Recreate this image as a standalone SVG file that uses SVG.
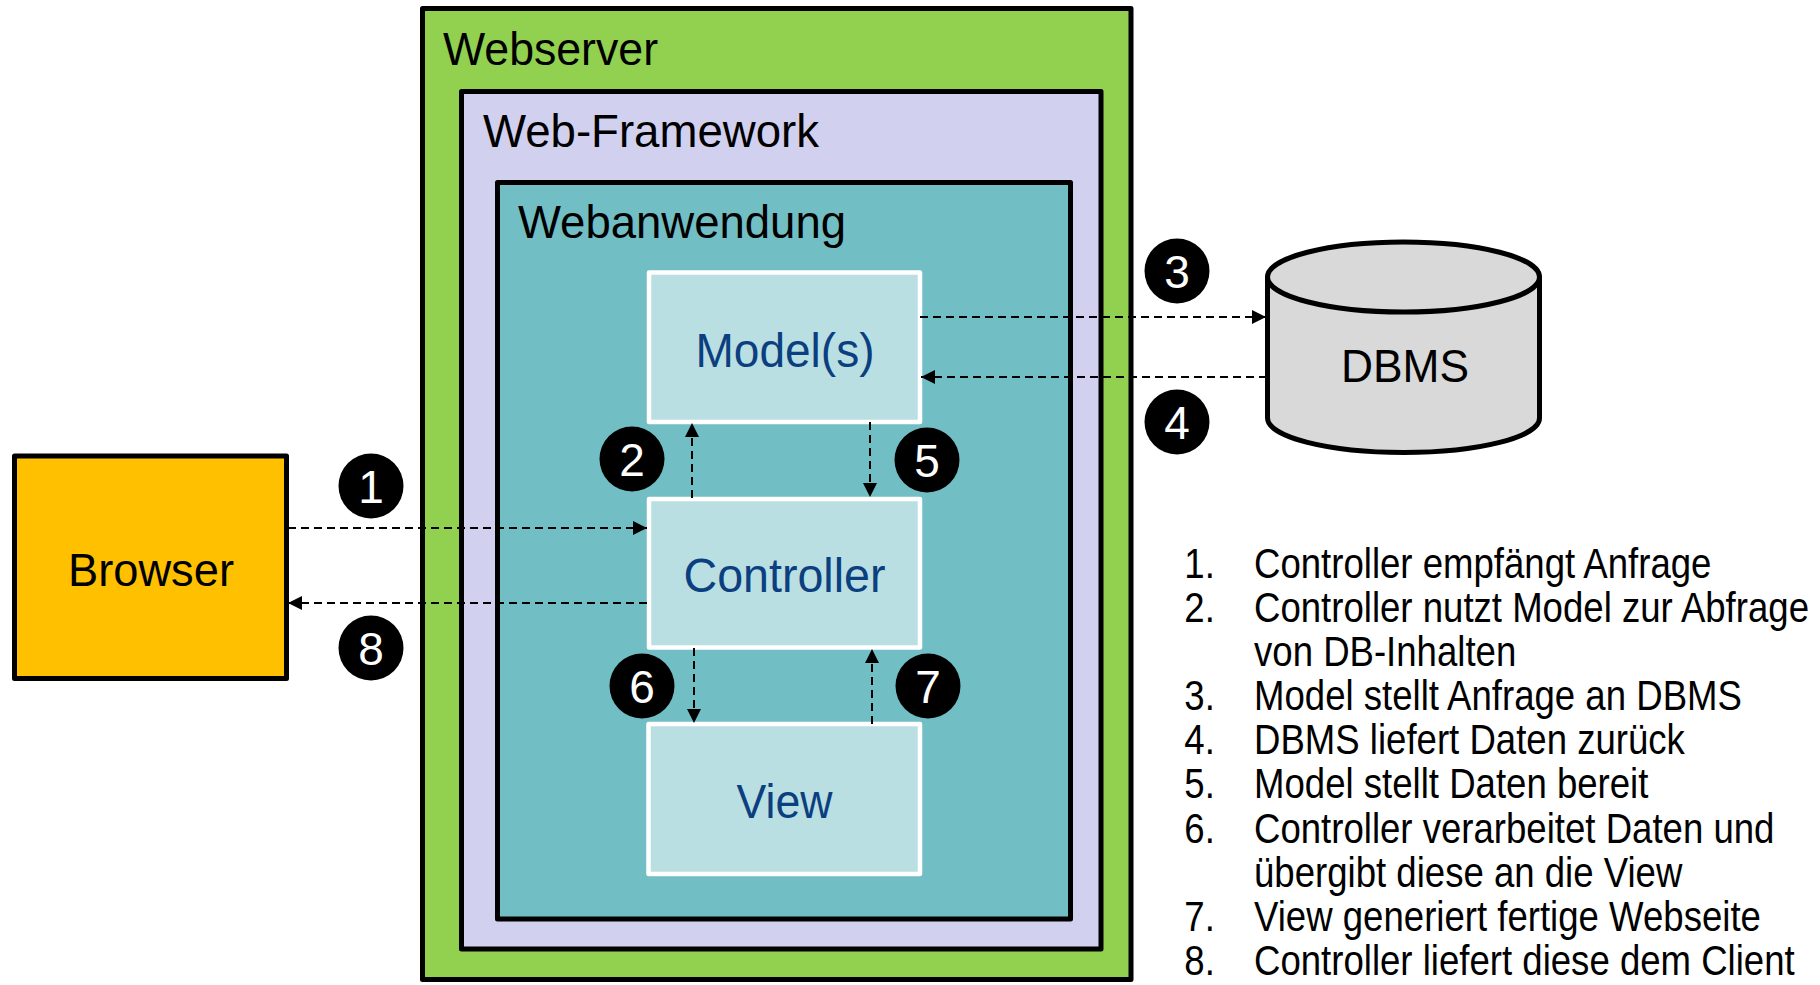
<svg xmlns="http://www.w3.org/2000/svg" width="1820" height="985" viewBox="0 0 1820 985">
<defs>
<style>
.box{stroke:#000;stroke-width:5;stroke-linejoin:round}
.inner{fill:#badfe2;stroke:#fff;stroke-width:4.5;stroke-linejoin:round}
.t{font-family:"Liberation Sans",Arial,sans-serif;fill:#000}
.blue{font-family:"Liberation Sans",Arial,sans-serif;fill:#0b3f80;font-size:49px;text-anchor:middle}
.badge circle{fill:#000}
.badge text{font-family:"Liberation Sans",Arial,sans-serif;fill:#fff;font-size:46px;text-anchor:middle}
.conn path{fill:none;stroke:#000;stroke-width:2;stroke-dasharray:8 5}
.list text{font-family:"Liberation Sans",Arial,sans-serif;font-size:42px;fill:#000}
</style>
<marker id="ah" markerUnits="userSpaceOnUse" markerWidth="15" markerHeight="15" refX="14" refY="7" orient="auto">
<path d="M0,0 L14,7 L0,14 Z" fill="#000"/>
</marker>
</defs>
<rect width="1820" height="985" fill="#fff"/>

<g id="webserver">
<rect class="box" x="422.5" y="8.5" width="708.5" height="971" fill="#92d050"/>
<text class="t" x="443" y="65" font-size="46" textLength="215" lengthAdjust="spacingAndGlyphs">Webserver</text>
</g>
<g id="webframework">
<rect class="box" x="461.5" y="91.5" width="639.5" height="857.5" fill="#d1d1ef"/>
<text class="t" x="483" y="147" font-size="46" textLength="336" lengthAdjust="spacingAndGlyphs">Web-Framework</text>
</g>
<g id="webanwendung">
<rect class="box" x="497.5" y="182.5" width="573" height="736.5" fill="#71bec4"/>
<text class="t" x="518" y="238" font-size="46" textLength="328" lengthAdjust="spacingAndGlyphs">Webanwendung</text>
</g>

<g id="model">
<rect class="inner" x="649" y="272.5" width="271" height="149.5"/>
<text class="blue" x="785" y="367" textLength="179" lengthAdjust="spacingAndGlyphs">Model(s)</text>
</g>
<g id="controller">
<rect class="inner" x="649" y="499" width="271" height="148.5"/>
<text class="blue" x="784.5" y="592" textLength="202" lengthAdjust="spacingAndGlyphs">Controller</text>
</g>
<g id="view">
<rect class="inner" x="648.5" y="724" width="271.5" height="150"/>
<text class="blue" x="784.5" y="818" textLength="96" lengthAdjust="spacingAndGlyphs">View</text>
</g>

<g id="browser">
<rect class="box" x="14.5" y="456" width="272" height="222.5" fill="#ffc000"/>
<text class="t" x="151" y="586" font-size="47" text-anchor="middle" textLength="166" lengthAdjust="spacingAndGlyphs">Browser</text>
</g>

<g id="dbms">
<path d="M1267.5,277 V418 A136,34.5 0 0 0 1539.5,418 V277 Z" fill="#d9d9d9" stroke="#000" stroke-width="5" stroke-linejoin="round"/>
<ellipse cx="1403.5" cy="277" rx="136" ry="35" fill="#d9d9d9" stroke="#000" stroke-width="5"/>
<text class="t" x="1405" y="382" font-size="46" text-anchor="middle" textLength="128" lengthAdjust="spacingAndGlyphs">DBMS</text>
</g>

<g id="connectors" class="conn">
<path d="M288,528 H647" marker-end="url(#ah)"/>
<path d="M647,603 H288" marker-end="url(#ah)"/>
<path d="M920,317 H1266" marker-end="url(#ah)"/>
<path d="M1267,377 H921" marker-end="url(#ah)"/>
<path d="M692,498 V423" marker-end="url(#ah)"/>
<path d="M870,422 V497" marker-end="url(#ah)"/>
<path d="M694,648 V723" marker-end="url(#ah)"/>
<path d="M872,724 V649" marker-end="url(#ah)"/>
</g>

<g id="badges" class="badge">
<g id="b1"><circle cx="371" cy="486" r="32.5"/><text x="371" y="502.5">1</text></g>
<g id="b2"><circle cx="632" cy="459" r="32.5"/><text x="632" y="475.5">2</text></g>
<g id="b3"><circle cx="1177" cy="271" r="32.5"/><text x="1177" y="287.5">3</text></g>
<g id="b4"><circle cx="1177" cy="422" r="32.5"/><text x="1177" y="438.5">4</text></g>
<g id="b5"><circle cx="927" cy="460" r="32.5"/><text x="927" y="476.5">5</text></g>
<g id="b6"><circle cx="642" cy="686" r="32.5"/><text x="642" y="702.5">6</text></g>
<g id="b7"><circle cx="928" cy="686" r="32.5"/><text x="928" y="702.5">7</text></g>
<g id="b8"><circle cx="371" cy="648" r="32.5"/><text x="371" y="664.5">8</text></g>
</g>

<g id="legend" class="list" transform="translate(1254,0) scale(0.871,1)">
<text x="-80" y="578">1.</text><text x="0" y="578">Controller empfängt Anfrage</text>
<text x="-80" y="622.1">2.</text><text x="0" y="622.1">Controller nutzt Model zur Abfrage</text>
<text x="0" y="666.2">von DB-Inhalten</text>
<text x="-80" y="710.3">3.</text><text x="0" y="710.3">Model stellt Anfrage an DBMS</text>
<text x="-80" y="754.4">4.</text><text x="0" y="754.4">DBMS liefert Daten zurück</text>
<text x="-80" y="798.5">5.</text><text x="0" y="798.5">Model stellt Daten bereit</text>
<text x="-80" y="842.6">6.</text><text x="0" y="842.6">Controller verarbeitet Daten und</text>
<text x="0" y="886.7">übergibt diese an die View</text>
<text x="-80" y="930.8">7.</text><text x="0" y="930.8">View generiert fertige Webseite</text>
<text x="-80" y="974.9">8.</text><text x="0" y="974.9">Controller liefert diese dem Client</text>
</g>
</svg>
